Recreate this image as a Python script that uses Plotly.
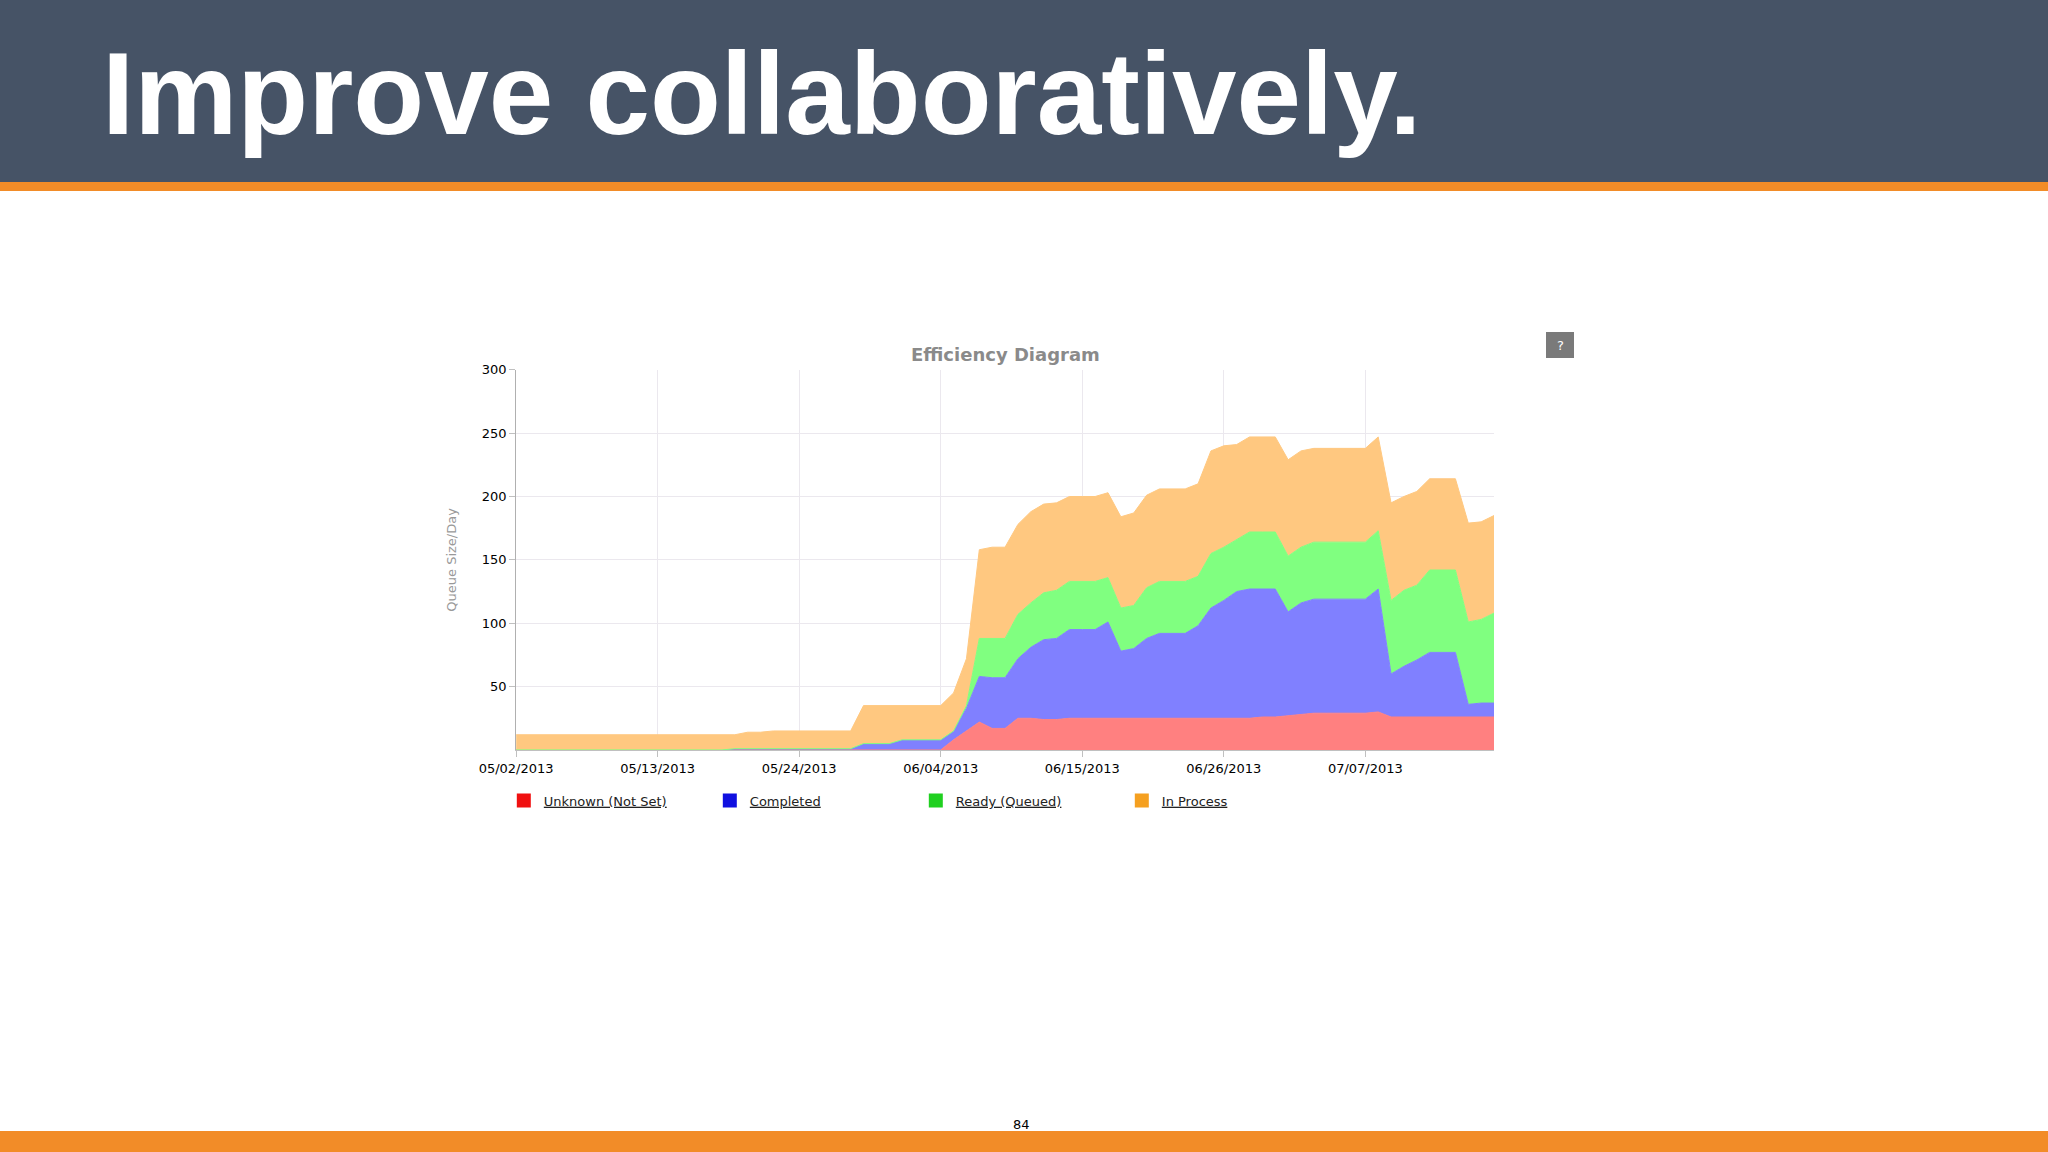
import pandas as pd
import plotly.graph_objects as go

# stacked levels, one value per day from 05/02/2013
dates = pd.date_range("2013-05-02", periods=77, freq="D")

unknown_top = [0]*34 + [8, 15, 22, 17, 17, 25, 25, 24, 24] + [25]*15 + [26, 26, 27, 28, 29, 29, 29, 29, 29, 30] + [26]*9
completed_top = [0]*17 + [1]*10 + [5, 5, 5, 8, 8, 8, 8] + [15, 33, 58, 57, 57, 72, 81, 87, 88, 95, 95, 95, 101, 78, 80, 88, 92, 92, 92, 98,
                 112, 118, 125, 127, 127, 127, 109, 116, 119, 119, 119, 119, 119, 127, 60, 66, 71, 77, 77, 77, 36, 37, 37]
ready_top = [0]*17 + [1]*10 + [5, 5, 5, 8, 8, 8, 8] + [15, 35, 88, 88, 88, 107, 116, 124, 126, 133, 133, 133, 136, 112, 114, 128, 133, 133, 133, 137,
             155, 160, 166, 172, 172, 172, 153, 160, 164, 164, 164, 164, 164, 173, 118, 126, 130, 142, 142, 142, 101, 103, 108]
inprocess_top = [12]*18 + [14, 14] + [15]*7 + [35]*7 + [45, 72, 158, 160, 160, 178, 188, 194, 195, 200, 200, 200, 203, 184, 187, 201, 206, 206, 206, 210,
                 236, 240, 241, 247, 247, 247, 229, 236, 238, 238, 238, 238, 238, 247, 195, 200, 204, 214, 214, 214, 179, 180, 185]

tick_dates = ["2013-05-02", "2013-05-13", "2013-05-24", "2013-06-04", "2013-06-15", "2013-06-26", "2013-07-07"]
tick_labels = ["05/02/2013", "05/13/2013", "05/24/2013", "06/04/2013", "06/15/2013", "06/26/2013", "07/07/2013"]

series = [
    ("Unknown (Not Set)", unknown_top, "#FF8080", "#f01010"),
    ("Completed", completed_top, "#8080FF", "#1010e0"),
    ("Ready (Queued)", ready_top, "#80FF80", "#20d020"),
    ("In Process", inprocess_top, "#FFC880", "#f5a020"),
]

fig = go.Figure()
for i, (name, vals, fill, legcol) in enumerate(series):
    fig.add_trace(go.Scatter(
        x=dates, y=vals, name=name, mode="lines", showlegend=False,
        line=dict(width=1, color=fill),
        fill="tozeroy" if i == 0 else "tonexty",
        fillcolor=fill,
    ))
# checkbox-like legend entries
for name, vals, fill, legcol in series:
    fig.add_trace(go.Scatter(
        x=[None], y=[None], name="<u>" + name + "</u>", mode="markers",
        marker=dict(symbol="square", size=14, color=legcol),
    ))

fig.update_layout(
    width=2048, height=1152,
    margin=dict(l=0, r=0, t=0, b=0, autoexpand=False),
    paper_bgcolor="white", plot_bgcolor="white",
    font=dict(family="DejaVu Sans", size=13, color="black"),
    showlegend=True,
    legend=dict(orientation="h", x=0.246, y=0.318, xanchor="left", yanchor="top",
                entrywidth=161, entrywidthmode="pixels", traceorder="normal",
                itemwidth=30,
                font=dict(size=13, color="#222"), bgcolor="rgba(0,0,0,0)"),
    xaxis=dict(domain=[0.252, 0.7295], range=[dates[0], dates[-1]], automargin=False,
               tickvals=tick_dates, ticktext=tick_labels,
               showgrid=True, gridcolor="#ebe8ee", ticks="outside", ticklen=6,
               tickcolor="#c0c0c0", showline=True, linecolor="#c0c0c0"),
    yaxis=dict(domain=[0.349, 0.679], range=[0, 300], automargin=False,
               tickvals=[50, 100, 150, 200, 250, 300],
               showgrid=True, gridcolor="#ebe8ee", ticks="outside", ticklen=6,
               tickcolor="#c0c0c0", showline=True, linecolor="#b0b0b0",
               title=dict(text="Queue Size/Day", font=dict(size=13, color="#999"), standoff=22)),
)

# slide decoration
fig.add_shape(type="rect", xref="paper", yref="paper", x0=0, x1=1, y0=1 - 182/1152, y1=1,
              fillcolor="#465366", line_width=0, layer="below")
fig.add_shape(type="rect", xref="paper", yref="paper", x0=0, x1=1, y0=1 - 191/1152, y1=1 - 182/1152,
              fillcolor="#F28C28", line_width=0)
fig.add_shape(type="rect", xref="paper", yref="paper", x0=0, x1=1, y0=0, y1=21/1152,
              fillcolor="#F28C28", line_width=0)
fig.add_shape(type="rect", xref="paper", yref="paper", x0=1546/2048, x1=1574/2048,
              y0=1 - 358/1152, y1=1 - 332/1152, fillcolor="#7a7a7a", line_width=0)

fig.add_annotation(text="<b>Improve collaboratively.</b>", xref="paper", yref="paper",
                   x=100/2048, y=1 - 94/1152, xanchor="left", yanchor="middle", showarrow=False,
                   font=dict(family="Liberation Sans", size=116, color="white"))
fig.add_annotation(text="<b>Efficiency Diagram</b>", xref="paper", yref="paper",
                   x=1005/2048, y=1 - 354/1152, yanchor="middle", showarrow=False,
                   font=dict(family="DejaVu Sans", size=18, color="#8a8a8a"))
fig.add_annotation(text="?", xref="paper", yref="paper", x=1560/2048, y=1 - 345/1152,
                   xanchor="center", yanchor="middle", showarrow=False, font=dict(size=13, color="white"))
fig.add_annotation(text="84", xref="paper", yref="paper", x=1021/2048, y=1 - 1124/1152,
                   yanchor="middle", showarrow=False, font=dict(size=13, color="black"))

fig.write_html("out.html", config={"displayModeBar": False},
               post_script="document.body.style.margin='0';")
